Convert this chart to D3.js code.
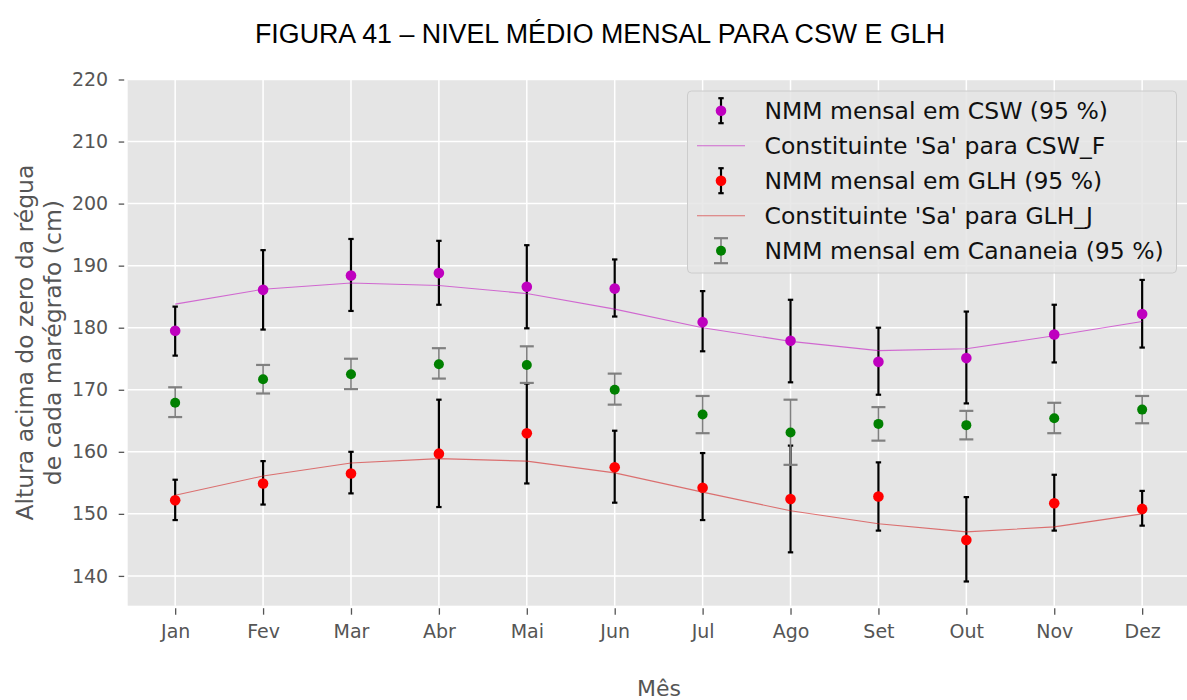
<!DOCTYPE html>
<html>
<head>
<meta charset="utf-8">
<script src="https://cdn.jsdelivr.net/npm/d3@7"></script>
<style>
  html, body { margin: 0; padding: 0; background: #ffffff; overflow: hidden; }
  svg { display: block; }
</style>
</head>
<body>
<svg id="chart" width="1187" height="700"></svg>
<script>
// Months (x categories)
const months = ["Jan", "Fev", "Mar", "Abr", "Mai", "Jun", "Jul", "Ago", "Set", "Out", "Nov", "Dez"];

// Monthly mean level at CSW with 95 % interval bounds (cm)
const cswMean = [179.5, 186.1, 188.4, 188.8, 186.6, 186.3, 180.9, 177.9, 174.5, 175.1, 178.9, 182.2];
const cswLow  = [175.5, 179.7, 182.7, 183.7, 179.9, 181.8, 176.2, 171.2, 169.2, 167.8, 174.4, 176.8];
const cswHigh = [183.4, 192.5, 194.3, 194.0, 193.3, 191.0, 185.9, 184.5, 180.0, 182.6, 183.7, 187.7];
// Annual constituent 'Sa' fitted for CSW_F
const cswSa   = [183.8, 186.2, 187.2, 186.8, 185.5, 183.0, 180.0, 177.8, 176.3, 176.6, 178.7, 181.0];

// Monthly mean level at GLH with 95 % interval bounds (cm)
const glhMean = [152.2, 154.9, 156.5, 159.7, 163.0, 157.5, 154.2, 152.4, 152.8, 145.8, 151.7, 150.8];
const glhLow  = [149.0, 151.5, 153.3, 151.1, 154.9, 151.8, 149.0, 143.8, 147.3, 139.1, 147.3, 148.1];
const glhHigh = [155.5, 158.5, 160.0, 168.4, 171.0, 163.4, 159.8, 161.0, 158.3, 152.7, 156.3, 153.7];
// Annual constituent 'Sa' fitted for GLH_J
const glhSa   = [153.0, 156.1, 158.2, 158.9, 158.5, 156.6, 153.5, 150.5, 148.4, 147.1, 147.9, 150.0];

// Monthly mean level at Cananeia with 95 % interval bounds (cm)
const canMean = [167.9, 171.7, 172.5, 174.1, 174.0, 170.0, 166.0, 163.1, 164.5, 164.3, 165.4, 166.8];
const canLow  = [165.6, 169.4, 170.1, 171.8, 171.1, 167.6, 163.0, 157.9, 161.8, 162.0, 163.0, 164.6];
const canHigh = [170.4, 174.0, 175.0, 176.7, 177.0, 172.6, 169.0, 168.4, 167.2, 166.6, 167.9, 169.0];

// Axis ticks
const yTicks = [140, 150, 160, 170, 180, 190, 200, 210, 220];

const svg = d3.select("#chart");
const panel = { left: 127.7, top: 79.5, right: 1190.5, bottom: 605.7 };

const x = d3.scaleLinear().domain([0.46, 12.55]).range([panel.left, panel.right]);
const y = d3.scaleLinear().domain([135.2, 220]).range([panel.bottom, panel.top]);
const xm = i => x(i + 1);

const FONT = "'DejaVu Sans', sans-serif";

// Title
svg.append("text")
  .attr("x", 600).attr("y", 43)
  .attr("text-anchor", "middle")
  .attr("font-family", "'Liberation Sans', Arial, sans-serif")
  .attr("font-size", 27)
  .attr("textLength", 690)
  .attr("lengthAdjust", "spacingAndGlyphs")
  .attr("fill", "#000")
  .text("FIGURA 41 – NIVEL MÉDIO MENSAL PARA CSW E GLH");

// Plot background
svg.append("rect")
  .attr("x", panel.left).attr("y", panel.top)
  .attr("width", panel.right - panel.left).attr("height", panel.bottom - panel.top)
  .attr("fill", "#E5E5E5");

// Gridlines
const grid = svg.append("g").attr("stroke", "#ffffff").attr("stroke-width", 1.5);
grid.selectAll("line.h").data(yTicks).join("line")
  .attr("x1", panel.left).attr("x2", panel.right)
  .attr("y1", d => y(d)).attr("y2", d => y(d));
grid.selectAll("line.v").data(months).join("line")
  .attr("x1", (d, i) => xm(i)).attr("x2", (d, i) => xm(i))
  .attr("y1", panel.top).attr("y2", panel.bottom);

// Y axis
const yAxis = svg.append("g")
  .attr("transform", `translate(${panel.left - 3.5},0)`)
  .call(d3.axisLeft(y).tickValues(yTicks).tickSize(5.5).tickPadding(10.5).tickFormat(d3.format("d")));
yAxis.select(".domain").remove();
yAxis.selectAll(".tick line").attr("stroke", "#555").attr("stroke-width", 1.3);
yAxis.selectAll(".tick text").attr("fill", "#555").attr("font-family", FONT).attr("font-size", 19);

// X axis
const xAxis = svg.append("g")
  .attr("transform", `translate(0,${panel.bottom + 2.5})`)
  .call(d3.axisBottom(x).tickValues(d3.range(1, 13)).tickSize(6.5).tickPadding(9.5)
    .tickFormat(d => months[d - 1]));
xAxis.select(".domain").remove();
xAxis.selectAll(".tick line").attr("stroke", "#555").attr("stroke-width", 1.3);
xAxis.selectAll(".tick text").attr("fill", "#555").attr("font-family", FONT).attr("font-size", 19);

// Axis labels
svg.append("text")
  .attr("x", (panel.left + panel.right) / 2).attr("y", 696)
  .attr("text-anchor", "middle")
  .attr("font-family", FONT).attr("font-size", 22).attr("fill", "#555")
  .text("Mês");

const yLab = svg.append("text")
  .attr("transform", `translate(0,${(panel.top + panel.bottom) / 2}) rotate(-90)`)
  .attr("text-anchor", "middle")
  .attr("font-family", FONT).attr("font-size", 23.5).attr("fill", "#555");
yLab.append("tspan").attr("x", 0).attr("y", 32.5).text("Altura acima do zero da régua");
yLab.append("tspan").attr("x", 0).attr("y", 60.5).text("de cada marégrafo (cm)");

// Error bar series helper
function errorSeries(mean, low, high, opts) {
  const g = svg.append("g");
  const idx = d3.range(mean.length);
  g.selectAll("line.bar").data(idx).join("line")
    .attr("x1", i => xm(i)).attr("x2", i => xm(i))
    .attr("y1", i => y(low[i])).attr("y2", i => y(high[i]))
    .attr("stroke", opts.barColor).attr("stroke-width", opts.barWidth);
  [low, high].forEach(arr => {
    g.selectAll(null).data(idx).join("line")
      .attr("x1", i => xm(i) - opts.cap).attr("x2", i => xm(i) + opts.cap)
      .attr("y1", i => y(arr[i])).attr("y2", i => y(arr[i]))
      .attr("stroke", opts.barColor).attr("stroke-width", opts.capWidth);
  });
  g.selectAll("circle").data(idx).join("circle")
    .attr("cx", i => xm(i)).attr("cy", i => y(mean[i]))
    .attr("r", opts.r).attr("fill", opts.color);
}

function fitLine(values, color, opacity) {
  svg.append("path")
    .datum(values)
    .attr("fill", "none")
    .attr("stroke", color).attr("stroke-opacity", opacity).attr("stroke-width", 1.1)
    .attr("d", d3.line().x((d, i) => xm(i)).y(d => y(d)));
}

const blackBars = { barColor: "#000", barWidth: 2.2, capWidth: 2.2, cap: 2.7, r: 5.3 };
const grayBars = { barColor: "#808080", barWidth: 1.6, capWidth: 2.2, cap: 7, r: 5.0 };

errorSeries(cswMean, cswLow, cswHigh, Object.assign({ color: "#bf00bf" }, blackBars));
fitLine(cswSa, "#bf00bf", 0.55);
errorSeries(glhMean, glhLow, glhHigh, Object.assign({ color: "#ff0000" }, blackBars));
fitLine(glhSa, "#d42020", 0.6);
errorSeries(canMean, canLow, canHigh, Object.assign({ color: "#008000" }, grayBars));

// Legend
const legend = svg.append("g");
legend.append("rect")
  .attr("x", 687.5).attr("y", 91).attr("width", 489).attr("height", 182).attr("rx", 4)
  .attr("fill", "#E5E5E5").attr("fill-opacity", 0.85)
  .attr("stroke", "#cccccc").attr("stroke-width", 1);

const legendItems = [
  { label: "NMM mensal em CSW (95 %)", type: "err", color: "#bf00bf", bars: blackBars },
  { label: "Constituinte 'Sa' para CSW_F", type: "line", color: "#bf00bf", opacity: 0.55 },
  { label: "NMM mensal em GLH (95 %)", type: "err", color: "#ff0000", bars: blackBars },
  { label: "Constituinte 'Sa' para GLH_J", type: "line", color: "#d42020", opacity: 0.6 },
  { label: "NMM mensal em Cananeia (95 %)", type: "err", color: "#008000", bars: grayBars }
];

legendItems.forEach((it, k) => {
  const cy = 110.7 + k * 35;
  const hx = 721;
  if (it.type === "err") {
    const b = it.bars;
    legend.append("line").attr("x1", hx).attr("x2", hx).attr("y1", cy - 12.5).attr("y2", cy + 12.5)
      .attr("stroke", b.barColor).attr("stroke-width", b.barWidth);
    [cy - 12.5, cy + 12.5].forEach(yy => {
      legend.append("line").attr("x1", hx - b.cap).attr("x2", hx + b.cap).attr("y1", yy).attr("y2", yy)
        .attr("stroke", b.barColor).attr("stroke-width", b.capWidth);
    });
    legend.append("circle").attr("cx", hx).attr("cy", cy).attr("r", b.r).attr("fill", it.color);
  } else {
    legend.append("line").attr("x1", 697).attr("x2", 745).attr("y1", cy).attr("y2", cy)
      .attr("stroke", it.color).attr("stroke-opacity", it.opacity).attr("stroke-width", 1.1);
  }
  legend.append("text")
    .attr("x", 764.5).attr("y", cy + 8.5)
    .attr("font-family", FONT).attr("font-size", 23.5).attr("fill", "#111")
    .text(it.label);
});
</script>
</body>
</html>
